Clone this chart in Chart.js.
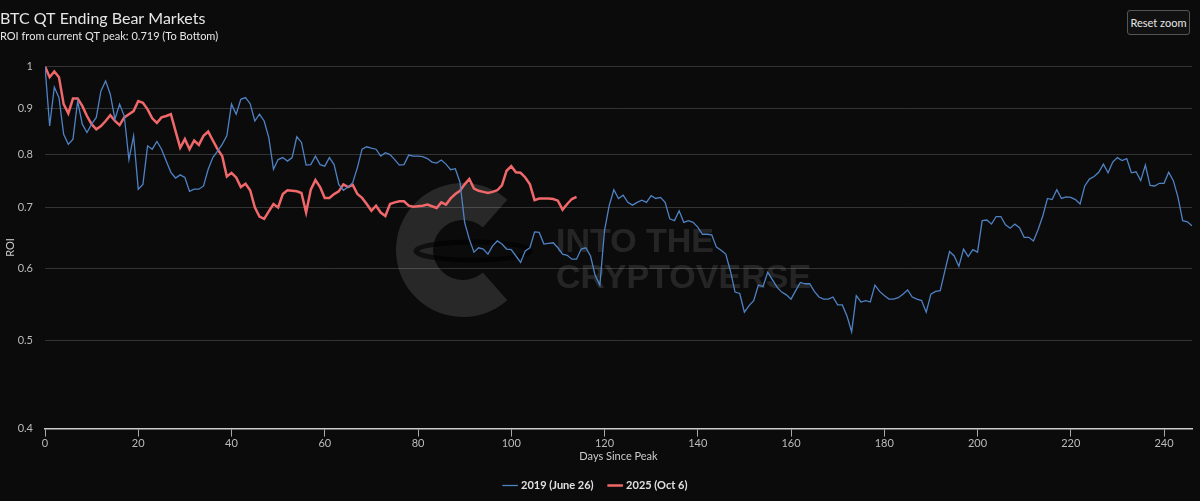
<!DOCTYPE html>
<html>
<head>
<meta charset="utf-8">
<script src="https://cdn.jsdelivr.net/npm/chart.js@4/dist/chart.umd.min.js"></script>
<style>
  html, body { margin: 0; padding: 0; background: #0b0b0b; }
  #wrap { position: relative; width: 1200px; height: 501px; }
  #resetBtn {
    position: absolute; left: 1127px; top: 10px; width: 63px; height: 25px;
    background: #111; color: #e6e6e6; border: 1px solid #555; border-radius: 3px;
    font: 11px Lato, sans-serif; padding: 0; cursor: pointer;
  }
</style>
</head>
<body>
<div id="wrap">
  <canvas id="roiChart" width="1200" height="501"></canvas>
  <button id="resetBtn">Reset zoom</button>
</div>
<script>
// ROI from QT peak, one value per day since peak
const roi2019 = [
  1.0, 0.86, 0.949, 0.924, 0.842, 0.821, 0.832, 0.916, 0.864, 0.846,
  0.864, 0.879, 0.94, 0.964, 0.932, 0.875, 0.909, 0.882, 0.79, 0.839,
  0.733, 0.742, 0.818, 0.811, 0.827, 0.811, 0.787, 0.765, 0.754, 0.76,
  0.755, 0.729, 0.733, 0.733, 0.739, 0.771, 0.794, 0.807, 0.821, 0.839,
  0.909, 0.886, 0.92, 0.924, 0.91, 0.871, 0.886, 0.871, 0.835, 0.771,
  0.79, 0.794, 0.787, 0.794, 0.837, 0.825, 0.779, 0.78, 0.797, 0.78,
  0.777, 0.794, 0.78, 0.742, 0.731, 0.737, 0.745, 0.774, 0.811, 0.816,
  0.813, 0.811, 0.797, 0.804, 0.8, 0.79, 0.779, 0.78, 0.799, 0.797,
  0.797, 0.796, 0.792, 0.785, 0.783, 0.789, 0.781, 0.77, 0.772, 0.746,
  0.674, 0.646, 0.625, 0.632, 0.63, 0.622, 0.635, 0.643, 0.638, 0.63,
  0.629, 0.619, 0.609, 0.627, 0.632, 0.658, 0.657, 0.638, 0.639, 0.64,
  0.632, 0.622, 0.62, 0.614, 0.614, 0.63, 0.632, 0.619, 0.589, 0.575,
  0.66, 0.703, 0.732, 0.716, 0.722, 0.709, 0.704, 0.709, 0.713, 0.709,
  0.721, 0.716, 0.718, 0.709, 0.68, 0.677, 0.694, 0.674, 0.677, 0.674,
  0.666, 0.654, 0.654, 0.653, 0.633, 0.628, 0.622, 0.596, 0.565, 0.563,
  0.537, 0.546, 0.553, 0.575, 0.573, 0.594, 0.583, 0.572, 0.565, 0.561,
  0.555, 0.567, 0.579, 0.577, 0.577, 0.566, 0.558, 0.555, 0.555, 0.558,
  0.547, 0.547, 0.532, 0.511, 0.56, 0.551, 0.553, 0.551, 0.575, 0.566,
  0.56, 0.555, 0.555, 0.557, 0.562, 0.568, 0.558, 0.555, 0.553, 0.537,
  0.562, 0.566, 0.567, 0.596, 0.626, 0.619, 0.603, 0.63, 0.618, 0.629,
  0.625, 0.677, 0.678, 0.671, 0.684, 0.684, 0.67, 0.664, 0.671, 0.665,
  0.649, 0.649, 0.643, 0.662, 0.685, 0.716, 0.714, 0.732, 0.716, 0.719,
  0.718, 0.714, 0.706, 0.739, 0.752, 0.757, 0.765, 0.781, 0.764, 0.785,
  0.794, 0.788, 0.792, 0.764, 0.766, 0.749, 0.779, 0.74, 0.739, 0.744,
  0.744, 0.765, 0.749, 0.718, 0.677, 0.675, 0.668
];

const roi2025 = [
  1.0, 0.973, 0.987, 0.973, 0.909, 0.888, 0.922, 0.922, 0.905, 0.882,
  0.864, 0.853, 0.86, 0.871, 0.884, 0.871, 0.862, 0.879, 0.886, 0.893,
  0.916, 0.912, 0.897, 0.877, 0.867, 0.879, 0.882, 0.886, 0.849, 0.814,
  0.832, 0.811, 0.829, 0.82, 0.839, 0.848, 0.829, 0.811, 0.797, 0.757,
  0.764, 0.755, 0.737, 0.743, 0.731, 0.7, 0.684, 0.68, 0.693, 0.706,
  0.7, 0.724, 0.731, 0.73, 0.729, 0.726, 0.691, 0.732, 0.75, 0.737,
  0.717, 0.717, 0.724, 0.729, 0.742, 0.737, 0.741, 0.724, 0.717, 0.706,
  0.694, 0.703, 0.691, 0.685, 0.706, 0.709, 0.711, 0.711, 0.703, 0.701,
  0.702, 0.703, 0.705, 0.702, 0.699, 0.709, 0.705, 0.716, 0.724, 0.73,
  0.742, 0.752, 0.734, 0.73, 0.728, 0.726, 0.728, 0.731, 0.74, 0.768,
  0.777, 0.765, 0.764, 0.755, 0.742, 0.713, 0.716, 0.716, 0.716, 0.715,
  0.712, 0.696, 0.706, 0.715, 0.719
];

const seriesNames = ['2019 (June 26)', '2025 (Oct 6)'];
const xTicks = [0, 20, 40, 60, 80, 100, 120, 140, 160, 180, 200, 220, 240];
const yTicks = [0.4, 0.5, 0.6, 0.7, 0.8, 0.9, 1];

const toPoints = arr => arr.map((v, i) => ({ x: i, y: v }));

// faint "Into The Cryptoverse" watermark behind the lines
const watermark = {
  id: 'watermark',
  beforeDatasetsDraw(chart) {
    const ctx = chart.ctx;
    ctx.save();
    const cx = 463, cy = 250;
    ctx.fillStyle = 'rgba(255,255,255,0.12)';
    ctx.beginPath();
    ctx.arc(cx, cy, 67, 0.27 * Math.PI, 1.73 * Math.PI, false);
    ctx.arc(cx, cy, 30, 1.73 * Math.PI, 0.27 * Math.PI, true);
    ctx.closePath();
    ctx.fill();
    ctx.strokeStyle = 'rgba(0,0,0,0.6)';
    ctx.lineWidth = 5;
    ctx.beginPath();
    ctx.ellipse(cx + 10, cy + 1, 57, 9, 0, 0, 2 * Math.PI);
    ctx.stroke();
    ctx.fillStyle = 'rgba(255,255,255,0.11)';
    ctx.font = 'bold 34px "Liberation Sans", sans-serif';
    ctx.textBaseline = 'alphabetic';
    ctx.fillText('INTO THE', 556, 252);
    ctx.fillText('CRYPTOVERSE', 556, 288);
    ctx.restore();
  }
};

new Chart(document.getElementById('roiChart'), {
  type: 'line',
  data: {
    datasets: [{
      label: seriesNames[0],
      data: toPoints(roi2019),
      borderColor: '#4f82c4',
      backgroundColor: '#4f82c4',
      borderWidth: 1.3,
      pointRadius: 0
    }, {
      label: seriesNames[1],
      data: toPoints(roi2025),
      borderColor: '#f0686a',
      backgroundColor: '#f0686a',
      borderWidth: 2.5,
      pointRadius: 0
    }]
  },
  options: {
    responsive: false,
    animation: false,
    events: [],
    layout: { padding: { left: 0, right: 8, top: 0, bottom: 0 } },
    scales: {
      x: {
        type: 'linear',
        min: 0,
        max: 246,
        afterBuildTicks: s => { s.ticks = xTicks.map(v => ({ value: v })); },
        grid: { drawOnChartArea: false, drawTicks: true, tickLength: 8, color: '#aaa' },
        border: { color: '#ccc', width: 1.5 },
        ticks: { color: '#bbb', padding: 0, maxRotation: 0, font: { family: 'Lato', size: 11 } },
        title: { display: true, text: 'Days Since Peak', color: '#ccc', padding: { top: 0, bottom: 1 },
                 font: { family: 'Lato', size: 11 } }
      },
      y: {
        type: 'logarithmic',
        min: 0.4,
        max: 1,
        afterBuildTicks: s => { s.ticks = yTicks.map(v => ({ value: v })); },
        afterFit: s => { s.width = 45; },
        grid: { color: '#343434', drawTicks: false },
        border: { display: false },
        ticks: { color: '#bbb', padding: 12, callback: v => String(v), font: { family: 'Lato', size: 11 } },
        title: { display: true, text: 'ROI', color: '#ccc', font: { family: 'Lato', size: 11 } }
      }
    },
    plugins: {
      title: {
        display: true,
        text: 'BTC QT Ending Bear Markets',
        align: 'start',
        color: '#e6e6e6',
        padding: { top: 9, bottom: 2 },
        font: { family: 'Lato', size: 16, weight: 'normal' }
      },
      subtitle: {
        display: true,
        text: 'ROI from current QT peak: 0.719 (To Bottom)',
        align: 'start',
        color: '#e6e6e6',
        padding: { top: 0, bottom: 23 },
        font: { family: 'Lato', size: 11 }
      },
      legend: {
        position: 'bottom',
        labels: {
          color: '#e0e0e0',
          usePointStyle: true,
          pointStyle: 'line',
          boxWidth: 12,
          padding: 16,
          font: { family: 'Lato', size: 11, weight: 'bold' }
        }
      },
      tooltip: { enabled: false }
    }
  },
  plugins: [watermark]
});
</script>
</body>
</html>
